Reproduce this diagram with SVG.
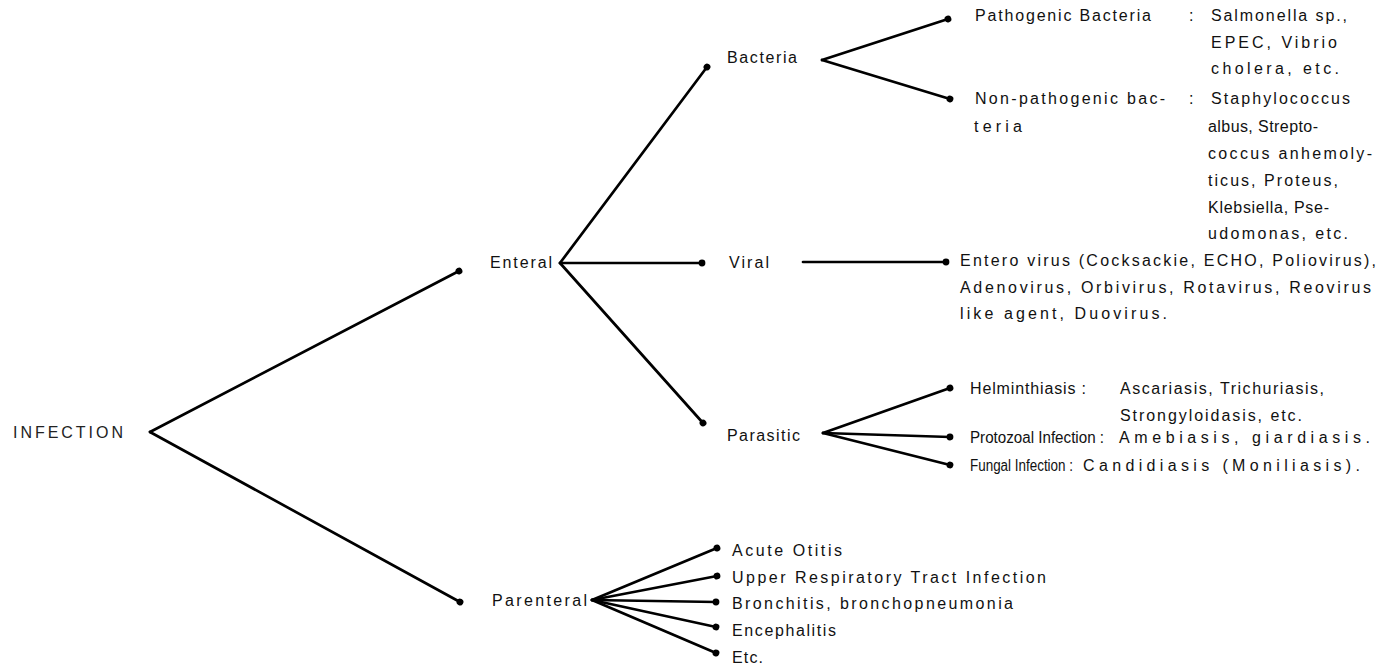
<svg xmlns="http://www.w3.org/2000/svg" width="1379" height="669" viewBox="0 0 1379 669">
<defs>
<style>
text{font-family:"Liberation Sans",Arial,sans-serif;font-size:16px;fill:#111;dominant-baseline:central}
.big{fill:#222}
.c line{stroke:#000;stroke-width:2.7;fill:none;stroke-linecap:round}
.dot{marker-end:url(#dot)}
</style>
<marker id="dot" markerUnits="userSpaceOnUse" markerWidth="10" markerHeight="10" refX="5" refY="5" orient="auto">
<circle cx="5" cy="5" r="3.4" fill="#000"/>
</marker>
</defs>
<rect width="1379" height="669" fill="#fff"/>
<g id="connectors" class="c">
<line class="dot" x1="150" y1="432" x2="459" y2="271"/>
<line class="dot" x1="150" y1="432" x2="460" y2="602"/>
<line class="dot" x1="560" y1="263" x2="707" y2="67"/>
<line class="dot" x1="560" y1="263" x2="702" y2="263"/>
<line class="dot" x1="560" y1="263" x2="703" y2="423"/>
<line class="dot" x1="822" y1="60" x2="948" y2="19"/>
<line class="dot" x1="822" y1="60" x2="950" y2="99"/>
<line class="dot" x1="803" y1="262" x2="946" y2="262"/>
<line class="dot" x1="823" y1="433" x2="950" y2="388"/>
<line class="dot" x1="823" y1="433" x2="950" y2="437"/>
<line class="dot" x1="823" y1="433" x2="950" y2="465"/>
<line class="dot" x1="592" y1="600" x2="717" y2="548"/>
<line class="dot" x1="592" y1="600" x2="717" y2="576"/>
<line class="dot" x1="592" y1="600" x2="716" y2="602"/>
<line class="dot" x1="592" y1="600" x2="716" y2="627"/>
<line class="dot" x1="592" y1="600" x2="716" y2="653"/>
</g>
<g id="infection"><text class="big" x="13" y="432" textLength="110" lengthAdjust="spacing">INFECTION</text></g>
<g id="enteral"><text x="490" y="262" textLength="62" lengthAdjust="spacing">Enteral</text></g>
<g id="parenteral"><text x="492" y="600" textLength="95" lengthAdjust="spacing">Parenteral</text></g>
<g id="bacteria"><text x="727" y="57" textLength="70" lengthAdjust="spacing">Bacteria</text></g>
<g id="viral"><text x="729" y="262" textLength="40" lengthAdjust="spacing">Viral</text></g>
<g id="parasitic"><text x="727" y="435" textLength="73" lengthAdjust="spacing">Parasitic</text></g>
<g id="pathogenic">
<text x="975" y="15" textLength="176" lengthAdjust="spacing">Pathogenic Bacteria</text>
<text x="1189" y="15">:</text>
<text x="1211" y="15" textLength="136" lengthAdjust="spacing">Salmonella sp.,</text>
<text x="1211" y="42" textLength="126" lengthAdjust="spacing">EPEC, Vibrio</text>
<text x="1211" y="68" textLength="128" lengthAdjust="spacing">cholera, etc.</text>
</g>
<g id="nonpathogenic">
<text x="975" y="98" textLength="190" lengthAdjust="spacing">Non-pathogenic bac-</text>
<text x="974" y="126" textLength="48" lengthAdjust="spacing">teria</text>
<text x="1189" y="98">:</text>
<text x="1211" y="98" textLength="139" lengthAdjust="spacing">Staphylococcus</text>
<text x="1208" y="126" textLength="110" lengthAdjust="spacing">albus, Strepto-</text>
<text x="1208" y="153" textLength="164" lengthAdjust="spacing">coccus anhemoly-</text>
<text x="1208" y="180" textLength="130" lengthAdjust="spacing">ticus, Proteus,</text>
<text x="1208" y="207" textLength="121" lengthAdjust="spacing">Klebsiella, Pse-</text>
<text x="1208" y="233" textLength="140" lengthAdjust="spacing">udomonas, etc.</text>
</g>
<g id="viruses">
<text x="960" y="260" textLength="416" lengthAdjust="spacing">Entero virus (Cocksackie, ECHO, Poliovirus),</text>
<text x="960" y="287" textLength="411" lengthAdjust="spacing">Adenovirus, Orbivirus, Rotavirus, Reovirus</text>
<text x="960" y="313" textLength="207" lengthAdjust="spacing">like agent, Duovirus.</text>
</g>
<g id="helminthiasis">
<text x="970" y="388" textLength="116" lengthAdjust="spacing">Helminthiasis :</text>
<text x="1120" y="388" textLength="204" lengthAdjust="spacing">Ascariasis, Trichuriasis,</text>
<text x="1120" y="415" textLength="182" lengthAdjust="spacing">Strongyloidasis, etc.</text>
</g>
<g id="protozoal">
<text x="970" y="437" textLength="134" lengthAdjust="spacingAndGlyphs">Protozoal Infection :</text>
<text x="1119" y="437" textLength="251" lengthAdjust="spacing">Amebiasis, giardiasis.</text>
</g>
<g id="fungal">
<text x="970" y="465" textLength="103" lengthAdjust="spacingAndGlyphs">Fungal Infection :</text>
<text x="1083" y="465" textLength="277" lengthAdjust="spacing">Candidiasis (Moniliasis).</text>
</g>
<g id="acute-otitis"><text x="732" y="550" textLength="110" lengthAdjust="spacing">Acute Otitis</text></g>
<g id="urti"><text x="732" y="577" textLength="314" lengthAdjust="spacing">Upper Respiratory Tract Infection</text></g>
<g id="bronchitis"><text x="732" y="603" textLength="281" lengthAdjust="spacing">Bronchitis, bronchopneumonia</text></g>
<g id="encephalitis"><text x="732" y="630" textLength="104" lengthAdjust="spacing">Encephalitis</text></g>
<g id="etc"><text x="732" y="657" textLength="31" lengthAdjust="spacing">Etc.</text></g>
</svg>
